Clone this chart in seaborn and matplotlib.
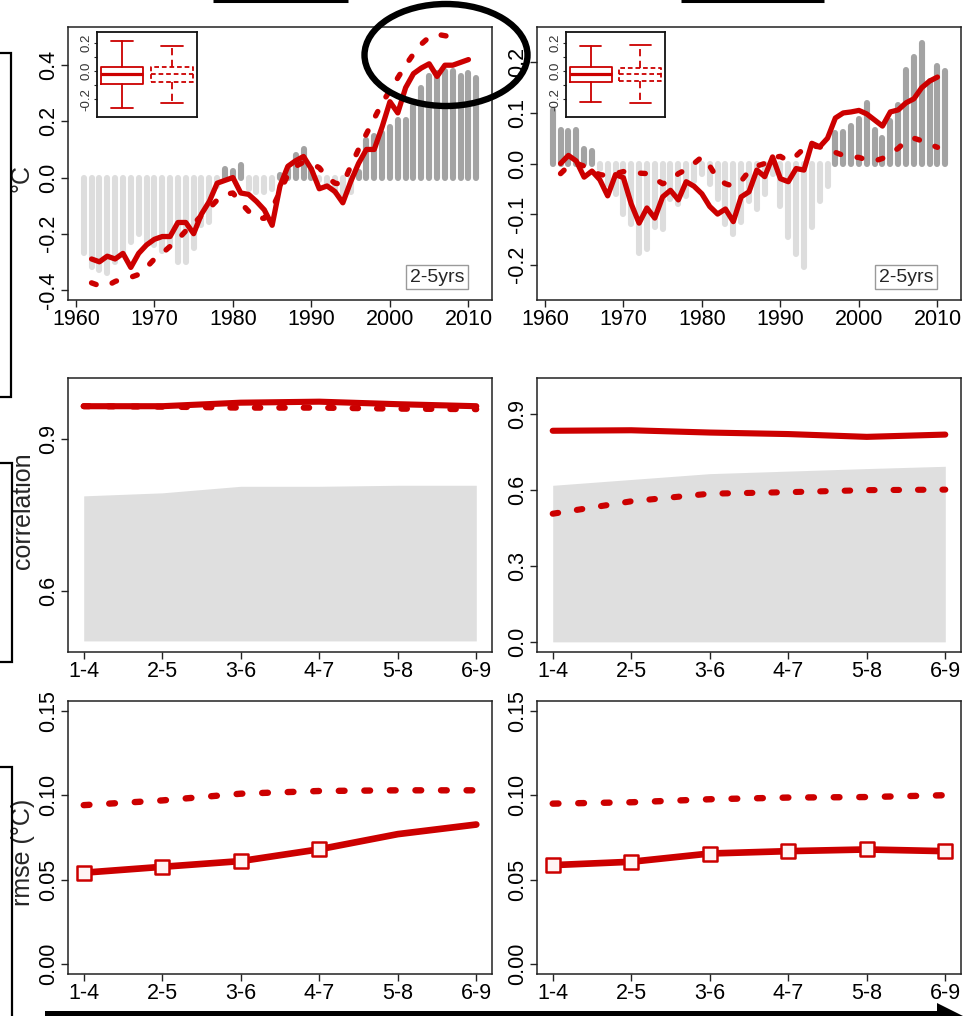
import matplotlib
matplotlib.use('Agg')
import matplotlib.pyplot as plt
import numpy as np
import seaborn as sns
from matplotlib.patches import Ellipse, Polygon, Rectangle
from matplotlib.lines import Line2D

# ---- data ------------------------------------------------------------------
years_bar = list(range(1961, 2012))
years_line = list(range(1962, 2011))

bars_left = [-0.27, -0.32, -0.33, -0.34, -0.30, -0.27, -0.23, -0.20, -0.23, -0.24,
             -0.26, -0.24, -0.30, -0.30, -0.25, -0.17, -0.16, -0.03, 0.03, 0.025,
             0.045, -0.04, -0.05, -0.05, -0.04, 0.01, 0.03, 0.08, 0.10, 0.03,
             -0.01, -0.03, -0.05, -0.06, -0.05, 0.02, 0.135, 0.147, 0.16, 0.18,
             0.206, 0.206, 0.254, 0.32, 0.36, 0.372, 0.378, 0.378, 0.36, 0.372, 0.354]
bars_right = [0.105, 0.066, 0.064, 0.066, 0.028, 0.025, -0.01, -0.04, -0.06, -0.10,
              -0.12, -0.178, -0.17, -0.125, -0.13, -0.07, -0.08, -0.065, -0.035, -0.02,
              -0.04, -0.07, -0.12, -0.14, -0.115, -0.075, -0.09, -0.06, -0.02, -0.085,
              -0.145, -0.18, -0.205, -0.125, -0.075, -0.045, 0.06, 0.062, 0.075, 0.088,
              0.12, 0.066, 0.05, 0.085, 0.115, 0.184, 0.21, 0.238, 0.164, 0.192, 0.183]

solid_left = [-0.29, -0.30, -0.28, -0.29, -0.27, -0.32, -0.27, -0.24, -0.22, -0.21,
              -0.21, -0.16, -0.16, -0.20, -0.13, -0.085, -0.02, -0.01, 0.0, -0.055,
              -0.06, -0.085, -0.115, -0.17, -0.03, 0.04, 0.06, 0.075, 0.03, -0.04,
              -0.03, -0.05, -0.09, -0.015, 0.05, 0.10, 0.10, 0.18, 0.27, 0.23,
              0.32, 0.37, 0.39, 0.405, 0.36, 0.40, 0.40, 0.41, 0.42]
dashed_left = [-0.375, -0.385, -0.385, -0.37, -0.36, -0.355, -0.345, -0.32, -0.29, -0.27,
               -0.245, -0.22, -0.19, -0.165, -0.135, -0.11, -0.08, -0.06, -0.055, -0.09,
               -0.12, -0.145, -0.145, -0.11, -0.05, 0.01, 0.04, 0.055, 0.05, 0.035,
               0.0, -0.02, -0.025, 0.04, 0.10, 0.155, 0.21, 0.265, 0.31, 0.355,
               0.40, 0.44, 0.475, 0.50, 0.51, 0.505, 0.50, 0.50]
solid_right = [0.0, 0.016, 0.005, -0.027, -0.015, -0.032, -0.064, -0.022, -0.028, -0.08,
               -0.118, -0.088, -0.108, -0.066, -0.053, -0.072, -0.036, -0.045, -0.06, -0.085,
               -0.1, -0.09, -0.115, -0.066, -0.056, -0.013, -0.026, 0.013, -0.03, -0.036,
               -0.01, -0.013, 0.04, 0.033, 0.05, 0.09, 0.1, 0.102, 0.105, 0.098,
               0.086, 0.074, 0.102, 0.106, 0.12, 0.128, 0.15, 0.163, 0.171]
dashed_right = [-0.02, -0.005, 0.0, -0.005, -0.015, -0.022, -0.024, -0.02, -0.016, -0.017,
                -0.019, -0.02, -0.03, -0.04, -0.035, -0.02, -0.012, 0.0, 0.013, -0.005,
                -0.03, -0.04, -0.045, -0.035, -0.015, -0.005, 0.0, 0.012, 0.014, 0.005,
                0.015, 0.03, 0.035, 0.033, 0.028, 0.022, 0.016, 0.013, 0.012, 0.007,
                0.005, 0.01, 0.02, 0.03, 0.045, 0.05, 0.045, 0.038, 0.032]

# inset box plots: [whislo, q1, med, q3, whishi]
box_left_solid = [-0.264, -0.094, -0.023, 0.026, 0.212]
box_left_dashed = [-0.224, -0.076, -0.023, 0.026, 0.177]
box_right_solid = [-0.22, -0.077, -0.018, 0.03, 0.18]
box_right_dashed = [-0.225, -0.07, -0.018, 0.024, 0.186]

leads = ['1-4', '2-5', '3-6', '4-7', '5-8', '6-9']
corr_left_solid = [0.966, 0.966, 0.973, 0.975, 0.970, 0.966]
corr_left_dashed = [0.966, 0.965, 0.963, 0.963, 0.961, 0.960]
corr_left_shade = [0.788, 0.794, 0.807, 0.807, 0.809, 0.809]
corr_right_solid = [0.832, 0.834, 0.825, 0.819, 0.808, 0.817]
corr_right_dashed = [0.505, 0.554, 0.584, 0.590, 0.598, 0.600]
corr_right_shade = [0.617, 0.640, 0.663, 0.673, 0.683, 0.692]

rmse_left_solid = [0.0541, 0.0576, 0.061, 0.068, 0.077, 0.0827]
rmse_left_dashed = [0.0942, 0.097, 0.101, 0.1026, 0.103, 0.103]
rmse_left_marked = [True, True, True, True, False, False]
rmse_right_solid = [0.0586, 0.0606, 0.0655, 0.0669, 0.0679, 0.0669]
rmse_right_dashed = [0.0951, 0.0959, 0.0977, 0.0987, 0.099, 0.1001]
rmse_right_marked = [True, True, True, True, True, True]

# ---- style -----------------------------------------------------------------
sns.set_style('ticks')
plt.rcParams['font.family'] = ['Liberation Sans', 'DejaVu Sans']
plt.rcParams['axes.unicode_minus'] = False

RED = '#cc0000'
DARK = '#a3a3a3'
LIGHT = '#dddddd'
SHADE = '#dfdfdf'
DOTS = (0, (0.9, 3.1))

W, H = 967, 1016
fig = plt.figure(figsize=(W / 100, H / 100), dpi=100)


def add_ax(x0, y0, x1, y1):
    return fig.add_axes([x0 / W, 1 - y1 / H, (x1 - x0) / W, (y1 - y0) / H])


def fpt(x, y):
    return x / W, 1 - y / H


def style_axis(ax, yticks, ylabels, size=15.5):
    ax.set_yticks(yticks, ylabels)
    for s in ax.spines.values():
        s.set_linewidth(1.1)
        s.set_color('#222222')
    ax.tick_params(direction='out', length=5, width=1, labelsize=size, pad=1.5,
                   color='#222222', labelcolor='black')
    ax.tick_params(axis='y', labelrotation=90)
    plt.setp(ax.get_yticklabels(), va='center')


def top_panel(box, bars, solid, dashed, ylim, yticks, ylabels):
    ax = add_ax(*box)
    colors = [DARK if v > 0 else LIGHT for v in bars]
    ax.vlines(years_bar, 0, bars, colors=colors, linewidth=4.4, capstyle='round', zorder=1)
    sns.lineplot(x=years_line[:len(dashed)], y=dashed, ax=ax, color=RED, linewidth=3.9,
                 linestyle=DOTS, dash_capstyle='round', errorbar=None, zorder=3)
    sns.lineplot(x=years_line, y=solid, ax=ax, color=RED, linewidth=3.8,
                 solid_capstyle='round', solid_joinstyle='round', errorbar=None, zorder=4)
    ax.set_xlim(1959, 2013)
    ax.set_ylim(*ylim)
    ax.set_xticks([1960, 1970, 1980, 1990, 2000, 2010])
    ax.set_xlabel('')
    ax.set_ylabel('')
    style_axis(ax, yticks, ylabels)
    ax.text(0.870, 0.084, '2-5yrs', transform=ax.transAxes, ha='center', va='center',
            fontsize=14, zorder=6,
            bbox=dict(boxstyle='square,pad=0.18', fc='white', ec='#9a9a9a', lw=1))
    return ax


def inset(box, solid_stats, dashed_stats):
    axi = add_ax(*box)
    axi.set_zorder(5)
    axi.set_facecolor('white')
    keys = ['whislo', 'q1', 'med', 'q3', 'whishi']
    s1 = dict(zip(keys, solid_stats), fliers=[])
    s2 = dict(zip(keys, dashed_stats), fliers=[])
    lw = 1.3
    axi.bxp([s1], positions=[1], widths=0.85, showfliers=False,
            boxprops=dict(color=RED, linewidth=lw), whiskerprops=dict(color=RED, linewidth=lw),
            capprops=dict(color=RED, linewidth=lw), medianprops=dict(color=RED, linewidth=2.3))
    dash = (0, (2.6, 1.6))
    axi.bxp([s2], positions=[2], widths=0.85, showfliers=False,
            boxprops=dict(color=RED, linewidth=lw, linestyle=dash),
            whiskerprops=dict(color=RED, linewidth=lw, linestyle=(0, (4, 2.5))),
            capprops=dict(color=RED, linewidth=lw),
            medianprops=dict(color=RED, linewidth=lw, linestyle=dash))
    axi.set_xlim(0.5, 2.5)
    axi.set_ylim(-0.325, 0.277)
    axi.set_xticks([])
    axi.set_yticks([-0.2, -0.1, 0.0, 0.1, 0.2], ['-0.2', '', '0.0', '', '0.2'])
    for s in axi.spines.values():
        s.set_linewidth(1.3)
        s.set_color('#111111')
    axi.tick_params(axis='y', direction='out', length=2.5, width=0.8, labelsize=9.5,
                    pad=1, labelcolor='#333333', labelrotation=90)
    plt.setp(axi.get_yticklabels(), va='center')


def corr_panel(box, base, shade, solid, dashed, ylim, yticks, ylabels):
    ax = add_ax(*box)
    pos = list(range(len(leads)))
    ax.fill_between(pos, base, shade, color=SHADE, linewidth=0, zorder=1)
    sns.lineplot(x=pos, y=dashed, ax=ax, color=RED, linewidth=4.4, linestyle=DOTS,
                 dash_capstyle='round', errorbar=None, zorder=3)
    sns.lineplot(x=pos, y=solid, ax=ax, color=RED, linewidth=4.4, solid_capstyle='round',
                 errorbar=None, zorder=4)
    ax.set_xlim(-0.2, 5.2)
    ax.set_ylim(*ylim)
    ax.set_xticks(pos, leads)
    ax.set_xlabel('')
    ax.set_ylabel('')
    style_axis(ax, yticks, ylabels)
    return ax


def rmse_panel(box, solid, dashed, marked):
    ax = add_ax(*box)
    pos = list(range(len(leads)))
    sns.lineplot(x=pos, y=dashed, ax=ax, color=RED, linewidth=4.6, linestyle=DOTS,
                 dash_capstyle='round', errorbar=None, zorder=3)
    sns.lineplot(x=pos, y=solid, ax=ax, color=RED, linewidth=4.8, solid_capstyle='round',
                 errorbar=None, zorder=4)
    mx = [p for p, m in zip(pos, marked) if m]
    my = [v for v, m in zip(solid, marked) if m]
    sns.scatterplot(x=mx, y=my, ax=ax, marker='s', s=95, facecolor='#fff4f4',
                    edgecolor=RED, linewidth=1.8, zorder=5)
    ax.set_xlim(-0.2, 5.2)
    ax.set_ylim(-0.006, 0.156)
    ax.set_xticks(pos, leads)
    ax.set_xlabel('')
    ax.set_ylabel('')
    style_axis(ax, [0.0, 0.05, 0.10, 0.15], ['0.00', '0.05', '0.10', '0.15'])
    return ax


# ---- panels ----------------------------------------------------------------
top_panel((68, 27, 492, 300), bars_left, solid_left, dashed_left, (-0.436, 0.536),
          [-0.4, -0.2, 0.0, 0.2, 0.4], ['-0.4', '-0.2', '0.0', '0.2', '0.4'])
top_panel((537, 27, 961, 300), bars_right, solid_right, dashed_right, (-0.27, 0.27),
          [-0.2, -0.1, 0.0, 0.1, 0.2], ['-0.2', '-0.1', '0.0', '0.1', '0.2'])
inset((97, 32, 197, 117), box_left_solid, box_left_dashed)
inset((566, 32, 665, 117), box_right_solid, box_right_dashed)

corr_panel((68, 378, 492, 652), 0.5, corr_left_shade, corr_left_solid, corr_left_dashed,
           (0.478, 1.022), [0.6, 0.9], ['0.6', '0.9'])
corr_panel((537, 378, 961, 652), 0.0, corr_right_shade, corr_right_solid, corr_right_dashed,
           (-0.04, 1.04), [0.0, 0.3, 0.6, 0.9], ['0.0', '0.3', '0.6', '0.9'])

rmse_panel((68, 701, 492, 974), rmse_left_solid, rmse_left_dashed, rmse_left_marked)
rmse_panel((537, 701, 961, 974), rmse_right_solid, rmse_right_dashed, rmse_right_marked)

# ---- y labels ----------------------------------------------------------------
fig.text(*fpt(21, 178), '°C', rotation=90, ha='center', va='center', fontsize=18)
fig.text(*fpt(23, 511), 'correlation', rotation=90, ha='center', va='center', fontsize=18)
fig.text(*fpt(23, 852), 'rmse (°C)', rotation=90, ha='center', va='center', fontsize=18)

# ---- annotation marks around the panels ---------------------------------------
def fig_line(pts, lw=1.6):
    xs = [p[0] / W for p in pts]
    ys = [1 - p[1] / H for p in pts]
    fig.add_artist(Line2D(xs, ys, color='black', linewidth=lw, solid_capstyle='butt',
                          solid_joinstyle='miter', zorder=20))


fig_line([(0, 53), (10.5, 53), (10.5, 397), (0, 397)])
fig_line([(0, 463), (12, 463), (12, 662), (0, 662)])
fig_line([(0, 767), (12, 767), (12, 1016)])
fig_line([(213, 1.2), (348, 1.2)], lw=2.2)
fig_line([(681, 1.2), (824, 1.2)], lw=2.2)

fig.add_artist(Rectangle(fpt(45, 1016), 895 / W, 5 / H, transform=fig.transFigure,
                         facecolor='black', edgecolor='none', zorder=20))
fig.add_artist(Polygon([fpt(937, 1003), fpt(965, 1017), fpt(937, 1031)], closed=True,
                       transform=fig.transFigure, facecolor='black', edgecolor='none', zorder=20))

fig.add_artist(Ellipse(fpt(446, 55), 163 / W, 102 / H, transform=fig.transFigure,
                       facecolor='none', edgecolor='black', linewidth=4.6, zorder=25))

fig.savefig('out.png', dpi=100)
